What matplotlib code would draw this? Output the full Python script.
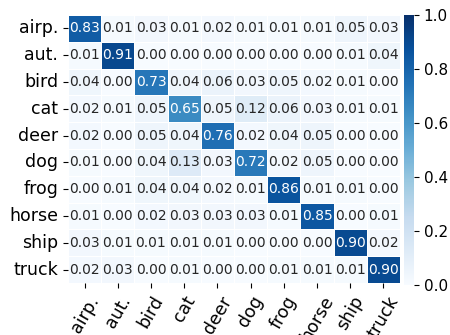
import numpy as np
import matplotlib
matplotlib.use("Agg")
import matplotlib.pyplot as plt
import seaborn as sns

classes = ["airp.", "aut.", "bird", "cat", "deer", "dog", "frog", "horse", "ship", "truck"]

conf = np.array([
    [0.83, 0.01, 0.03, 0.01, 0.02, 0.01, 0.01, 0.01, 0.05, 0.03],
    [0.01, 0.91, 0.00, 0.00, 0.00, 0.00, 0.00, 0.00, 0.01, 0.04],
    [0.04, 0.00, 0.73, 0.04, 0.06, 0.03, 0.05, 0.02, 0.01, 0.00],
    [0.02, 0.01, 0.05, 0.65, 0.05, 0.12, 0.06, 0.03, 0.01, 0.01],
    [0.02, 0.00, 0.05, 0.04, 0.76, 0.02, 0.04, 0.05, 0.00, 0.00],
    [0.01, 0.00, 0.04, 0.13, 0.03, 0.72, 0.02, 0.05, 0.00, 0.00],
    [0.00, 0.01, 0.04, 0.04, 0.02, 0.01, 0.86, 0.01, 0.01, 0.00],
    [0.01, 0.00, 0.02, 0.03, 0.03, 0.03, 0.01, 0.85, 0.00, 0.01],
    [0.03, 0.01, 0.01, 0.01, 0.01, 0.00, 0.00, 0.00, 0.90, 0.02],
    [0.02, 0.03, 0.00, 0.01, 0.00, 0.00, 0.01, 0.01, 0.01, 0.90],
])

fig = plt.figure(figsize=(4.5, 3.35), dpi=100)
ax = fig.add_axes([0.151, 0.155, 0.738, 0.80])
cax = fig.add_axes([0.898, 0.150, 0.022, 0.805])

sns.heatmap(conf, ax=ax, cbar_ax=cax, cmap="Blues", vmin=0, vmax=1,
            annot=True, fmt=".2f", annot_kws={"fontsize": 10},
            linewidths=0.5, linecolor="white",
            xticklabels=classes, yticklabels=classes)

ax.set_xticklabels(classes, rotation=60, fontsize=12.5)
ax.set_yticklabels(classes, rotation=0, fontsize=12.5)
cax.tick_params(labelsize=11)
cax.set_yticks([0.0, 0.2, 0.4, 0.6, 0.8, 1.0])

fig.savefig("out.png", dpi=100)
